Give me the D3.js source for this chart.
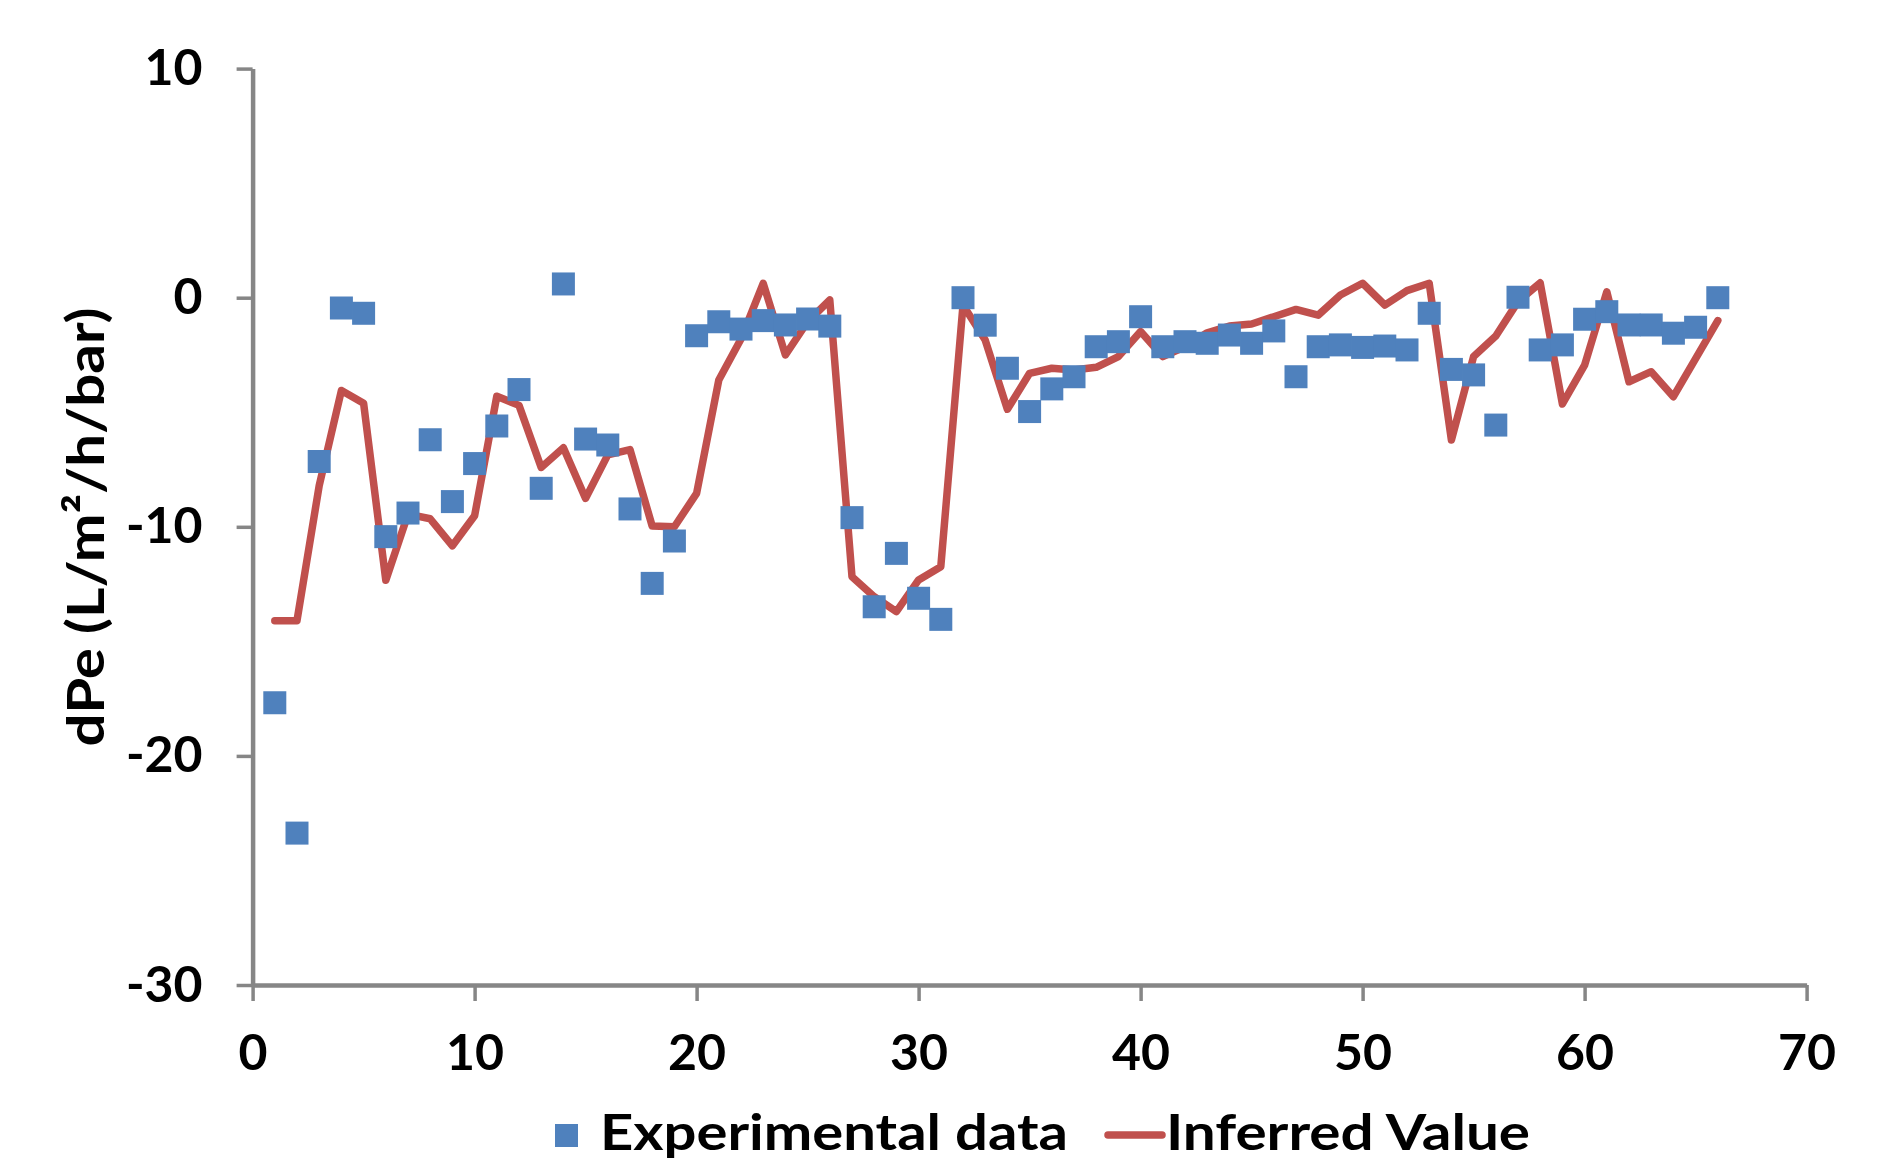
<!DOCTYPE html>
<html>
<head>
<meta charset="utf-8">
<script src="https://cdn.jsdelivr.net/npm/d3@7"></script>
<style>
  body { margin: 0; background: #fff; }
  text { font-family: Lato, 'Open Sans', sans-serif; font-weight: bold; fill: #000; }
</style>
</head>
<body>
<script>
// sample index 1..66
var sample = d3.range(1, 67)

// experimental data (squares)
var experimental = [
  -17.68, -23.37, -7.15, -0.45, -0.68, -10.43, -9.4, -6.2, -8.9, -7.24,
  -5.6, -4.01, -8.32, 0.6, -6.17, -6.43, -9.22, -12.47, -10.62, -1.66,
  -1.05, -1.37, -1.0, -1.19, -0.93, -1.24, -9.6, -13.49, -11.16, -13.12,
  -14.04, 0, -1.2, -3.08, -4.97, -3.98, -3.45, -2.14, -1.92, -0.83,
  -2.14, -1.92, -1.99, -1.63, -1.99, -1.45, -3.45, -2.14, -2.06, -2.17,
  -2.11, -2.28, -0.68, -3.13, -3.37, -5.56, 0.02, -2.28, -2.06, -0.94,
  -0.61, -1.19, -1.19, -1.55, -1.29, 0.0
]

// inferred value (line)
var inferred = [
  -14.1, -14.1, -8.2, -4.05, -4.61, -12.33, -9.45, -9.65, -10.83, -9.52,
  -4.3, -4.7, -7.41, -6.55, -8.76, -6.86, -6.63, -9.97, -10.0, -8.54,
  -3.59, -1.8, 0.63, -2.5, -1.05, -0.1, -12.18, -13.05, -13.7, -12.32,
  -11.74, -0.32, -1.85, -4.87, -3.3, -3.08, -3.16, -3.04, -2.57, -1.48,
  -2.57, -2.14, -1.53, -1.24, -1.15, -0.83, -0.51, -0.76, 0.12, 0.63,
  -0.32, 0.31, 0.63, -6.21, -2.57, -1.67, -0.17, 0.65, -4.64, -2.94,
  0.26, -3.67, -3.23, -4.32, -2.66, -1.0
]

var xTicks = [0, 10, 20, 30, 40, 50, 60, 70]
var yTicks = [-30, -20, -10, 0, 10]
var yTitle = 'dPe (L/m\u00B2/h/bar)'
var seriesNames = ['Experimental data', 'Inferred Value']

var W = 1886, H = 1160
var blue = '#4F81BD', red = '#C0504D', axisGray = '#868686'

var svg = d3.select('body').append('svg').attr('width', W).attr('height', H)
svg.append('rect').attr('width', W).attr('height', H).attr('fill', '#fff')

var x = d3.scaleLinear().domain([0, 70]).range([252.6, 1806.6])
var y = d3.scaleLinear().domain([-30, 10]).range([985, 68.6])

// plain hyphen for negatives, like the original
var fmt = function (d) { return String(d) }

// axes
var gy = svg.append('g').attr('transform', 'translate(' + x(0) + ',0)')
  .call(d3.axisLeft(y).tickValues(yTicks).tickFormat(fmt).tickSize(16).tickSizeOuter(0).tickPadding(34))
var gx = svg.append('g').attr('transform', 'translate(0,' + y(-30) + ')')
  .call(d3.axisBottom(x).tickValues(xTicks).tickFormat(fmt).tickSize(16).tickSizeOuter(0).tickPadding(33))

;[gx, gy].forEach(function (g) {
  g.select('.domain').attr('stroke', axisGray).attr('stroke-width', 4.5)
  g.selectAll('.tick line').attr('stroke', axisGray).attr('stroke-width', 3.5)
  g.selectAll('.tick text').style('font-size', '50px').attr('fill', '#000')
})

// inferred line
var line = d3.line().x(function (d, i) { return x(sample[i]) }).y(function (d) { return y(d) })
svg.append('path').datum(inferred)
  .attr('d', line)
  .attr('fill', 'none')
  .attr('stroke', red)
  .attr('stroke-width', 7.5)
  .attr('stroke-linejoin', 'round')
  .attr('stroke-linecap', 'round')

// experimental squares
var sq = 23
svg.append('g').selectAll('rect').data(experimental).enter().append('rect')
  .attr('x', function (d, i) { return x(sample[i]) - sq / 2 })
  .attr('y', function (d) { return y(d) - sq / 2 })
  .attr('width', sq).attr('height', sq)
  .attr('fill', blue)

// y title
svg.append('text')
  .attr('transform', 'translate(104,527) rotate(-90)')
  .attr('text-anchor', 'middle')
  .attr('textLength', 439).attr('lengthAdjust', 'spacingAndGlyphs')
  .style('font-size', '52px')
  .text(yTitle)

// legend
var leg = svg.append('g')
leg.append('rect').attr('x', 555).attr('y', 1124).attr('width', 23).attr('height', 23).attr('fill', blue)
leg.append('text').attr('x', 600).attr('y', 1150)
  .attr('textLength', 468).attr('lengthAdjust', 'spacingAndGlyphs')
  .style('font-size', '50px').text(seriesNames[0])
leg.append('line').attr('x1', 1108).attr('x2', 1162).attr('y1', 1135).attr('y2', 1135)
  .attr('stroke', red).attr('stroke-width', 7.5).attr('stroke-linecap', 'round')
leg.append('text').attr('x', 1166).attr('y', 1150)
  .attr('textLength', 364).attr('lengthAdjust', 'spacingAndGlyphs')
  .style('font-size', '50px').text(seriesNames[1])
</script>
</body>
</html>
